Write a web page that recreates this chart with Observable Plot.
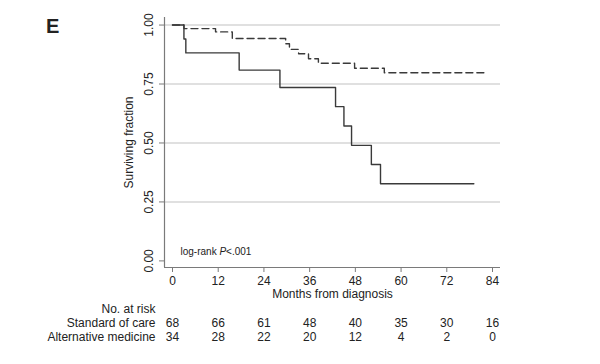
<!DOCTYPE html>
<html>
<head>
<meta charset="utf-8">
<script src="https://cdn.jsdelivr.net/npm/d3@7"></script>
<script src="https://cdn.jsdelivr.net/npm/@observablehq/plot@0.6"></script>
<style>
  html, body { margin: 0; padding: 0; background: #fff; }
  #wrap { position: relative; width: 600px; height: 364px; font-family: "Liberation Sans", Arial, Helvetica, sans-serif; }
  #panel { position: absolute; left: 46px; top: 16px; font-size: 20px; line-height: 1; font-weight: bold; color: #222; }
</style>
</head>
<body>
<div id="wrap"><div id="panel">E</div></div>
<script>
// Kaplan–Meier curves (months, surviving fraction)
const standardTimes = [0, 3.0, 11.3, 15.7, 29.7, 30.7, 33.1, 35.7, 38.3, 47.8, 55.6, 82.7];
const standardSurv  = [1, 0.985, 0.971, 0.943, 0.921, 0.897, 0.878, 0.857, 0.838, 0.817, 0.798, 0.798];
const altTimes = [0, 3.0, 3.5, 17.5, 28.2, 42.8, 45.0, 47.0, 52.2, 54.6, 79.1];
const altSurv  = [1, 0.941, 0.882, 0.809, 0.735, 0.654, 0.572, 0.490, 0.409, 0.327, 0.327];

// Axes
const xTicks = [0, 12, 24, 36, 48, 60, 72, 84];
const yTicks = [0, 0.25, 0.5, 0.75, 1];
const gridValues = [0.25, 0.5, 0.75, 1];
const xDomain = [-2.1, 86.1];
const yDomain = [-0.028, 1.032];

// Number at risk table
const riskTimes = [0, 12, 24, 36, 48, 60, 72, 84];
const standardRisk = [68, 66, 61, 48, 40, 35, 30, 16];
const altRisk = [34, 28, 22, 20, 12, 4, 2, 0];
const groupNames = ["Standard of care", "Alternative medicine"];

const standardData = standardTimes.map((t, i) => ({t, s: standardSurv[i]}));
const altData = altTimes.map((t, i) => ({t, s: altSurv[i]}));

const ink = "#222";
const axisGray = "#7a7a7a";
const lineColor = "#3a3a3a";

const chart = Plot.plot({
  width: 600,
  height: 364,
  marginLeft: 164,
  marginRight: 100,
  marginTop: 17,
  marginBottom: 97,
  style: {fontFamily: '"Liberation Sans", Arial, Helvetica, sans-serif', fontSize: "12px", color: ink, background: "transparent", overflow: "visible"},
  x: {domain: xDomain},
  y: {domain: yDomain},
  marks: [
    Plot.ruleY(gridValues, {stroke: "#d6d6d6", strokeWidth: 1.5}),
    Plot.ruleX([xDomain[0]], {stroke: axisGray, strokeWidth: 1.2}),
    Plot.ruleY([yDomain[0]], {stroke: axisGray, strokeWidth: 1.2}),
    Plot.axisY({ticks: yTicks, tickSize: 5, tickFormat: () => "", label: null, stroke: axisGray}),
    Plot.text(yTicks, {y: d => d, text: d => d3.format(".2f")(d), frameAnchor: "left", dx: -15, rotate: -90, textAnchor: "middle", lineAnchor: "middle", fontSize: 12, fill: ink}),
    Plot.text(["Surviving fraction"], {frameAnchor: "left", dx: -35, rotate: -90, textAnchor: "middle", lineAnchor: "middle", fontSize: 12, fill: ink}),
    Plot.axisX({ticks: xTicks, tickSize: 5, tickPadding: 4, label: null, stroke: axisGray, fontSize: 12, fill: ink}),
    Plot.text(["Months from diagnosis"], {frameAnchor: "bottom", dy: 27, lineAnchor: "middle", fontSize: 12, fill: ink}),
    Plot.line(standardData, {x: "t", y: "s", curve: "step-after", stroke: lineColor, strokeWidth: 1.4, strokeDasharray: "7,4"}),
    Plot.line(altData, {x: "t", y: "s", curve: "step-after", stroke: lineColor, strokeWidth: 1.4}),
    Plot.text(["log-rank P<.001"], {frameAnchor: "bottom-left", dx: 16, dy: -16, textAnchor: "start", lineAnchor: "middle", fontSize: 10, fill: ink, className: "logrank"}),
    // Number at risk
    Plot.text(["No. at risk"], {frameAnchor: "bottom-left", dx: -9, dy: 42, textAnchor: "end", lineAnchor: "middle", fontSize: 12, fill: ink}),
    Plot.text([groupNames[0]], {frameAnchor: "bottom-left", dx: -9, dy: 56, textAnchor: "end", lineAnchor: "middle", fontSize: 12, fill: ink}),
    Plot.text([groupNames[1]], {frameAnchor: "bottom-left", dx: -9, dy: 70, textAnchor: "end", lineAnchor: "middle", fontSize: 12, fill: ink}),
    Plot.text(riskTimes, {x: d => d, text: (d, i) => String(standardRisk[i]), frameAnchor: "bottom", dy: 56, lineAnchor: "middle", fontSize: 12, fill: ink}),
    Plot.text(riskTimes, {x: d => d, text: (d, i) => String(altRisk[i]), frameAnchor: "bottom", dy: 70, lineAnchor: "middle", fontSize: 12, fill: ink})
  ]
});

// italicise P in the log-rank annotation
d3.select(chart).selectAll("g.logrank text").each(function() {
  const el = d3.select(this);
  const txt = el.text();
  const idx = txt.indexOf("P");
  if (idx >= 0) {
    el.text(null);
    el.append("tspan").text(txt.slice(0, idx));
    el.append("tspan").attr("font-style", "italic").text("P");
    el.append("tspan").text(txt.slice(idx + 1));
  }
});

document.getElementById("wrap").appendChild(chart);
chart.style.position = "absolute";
chart.style.left = "0";
chart.style.top = "0";
</script>
</body>
</html>
